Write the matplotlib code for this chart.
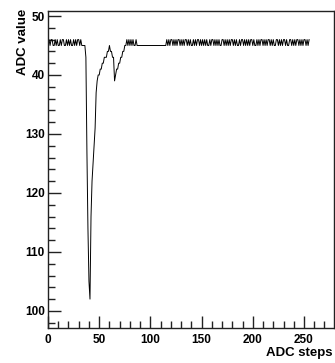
import matplotlib.pyplot as plt
import numpy as np

plt.rcParams['font.family'] = ['Liberation Sans', 'DejaVu Sans']
plt.rcParams['font.weight'] = 'bold'

# ADC value per step
pedestal_start = [145, 146, 145, 146, 146, 145, 145, 146, 145, 146,
                  145, 145, 146, 145, 146, 146, 145, 145, 146, 145,
                  146, 145, 146, 145, 145, 146, 145, 146, 145, 146,
                  146, 145, 146, 145, 145, 145, 145]
pulse = [143, 127, 114, 105, 102, 116, 122, 125, 128, 131,
         137, 139, 140, 140, 141, 141, 142, 142, 143, 143,
         143, 144, 144, 145, 144, 144, 143, 143, 139, 140,
         141, 141, 142, 142, 143, 143, 144, 144, 145, 145]
ripple = [146, 145, 146, 145, 146, 145, 146, 145, 145, 146, 145]
flat = [145] * 28
pedestal_end = [146, 145, 146, 145, 146, 146, 145, 146, 145, 146,
                145, 146, 146, 145, 146, 145, 146, 145, 146, 146,
                145, 146, 145, 146, 145, 145, 146, 145, 146, 145,
                146, 146, 145, 146, 145, 146, 145, 146, 145, 146,
                145, 145, 146, 145, 146, 146, 145, 146, 145, 146,
                145, 146, 145, 145, 146, 146, 145, 146, 145, 146,
                145, 146, 145, 146, 146, 145, 146, 145, 146, 145,
                145, 146, 145, 146, 146, 145, 146, 145, 146, 145,
                146, 145, 146, 146, 145, 146, 145, 145, 146, 145,
                146, 145, 146, 146, 145, 146, 145, 146, 145, 146,
                146, 145, 146, 145, 146, 145, 145, 146, 146, 145,
                146, 145, 146, 145, 146, 146, 145, 146, 145, 145,
                146, 146, 145, 146, 145, 146, 145, 146, 146, 145,
                146, 145, 146, 145, 146, 146, 145, 146, 145, 146]

values = pedestal_start + pulse + ripple + flat + pedestal_end
steps = np.arange(len(values))

x_ticks = [0, 50, 100, 150, 200, 250]
y_ticks = [100, 110, 120, 130, 140, 150]
# the leading "1" of the two top labels is hidden in the original
y_tick_labels = ['100', '110', '120', '130', '40', '50']

fig = plt.figure(figsize=(3.35, 3.63), dpi=100)
ax = fig.add_axes([0.1433, 0.0964, 0.8537, 0.8733])

ax.plot(steps, values, color='black', lw=0.7)

ax.set_xlim(0, 279.3)
ax.set_ylim(97.1, 150.85)
ax.set_xticks(x_ticks)
ax.set_xticks(np.arange(0, 280, 10), minor=True)
ax.set_yticks(y_ticks)
ax.set_yticklabels(y_tick_labels)
ax.set_yticks(np.arange(98, 151, 2), minor=True)

ax.tick_params(which='both', direction='in', top=False, right=False,
               labelsize=8.5, width=1, color='#222222')
ax.tick_params(which='major', length=9, pad=2.2)
ax.tick_params(which='minor', length=5)
ax.tick_params(axis='x', which='major', pad=4.3)
for lab in ax.get_xticklabels() + ax.get_yticklabels():
    lab.set_fontweight('bold')

for sp in ax.spines.values():
    sp.set_linewidth(1)
    sp.set_color('#222222')

fig.text(0.994, 0.027, 'ADC steps', ha='right', va='center',
         fontsize=9.5, fontweight='bold')
fig.text(0.068, 0.975, 'ADC value', ha='center', va='top', rotation=90,
         fontsize=9.5, fontweight='bold')

fig.savefig('out.png', dpi=100)
